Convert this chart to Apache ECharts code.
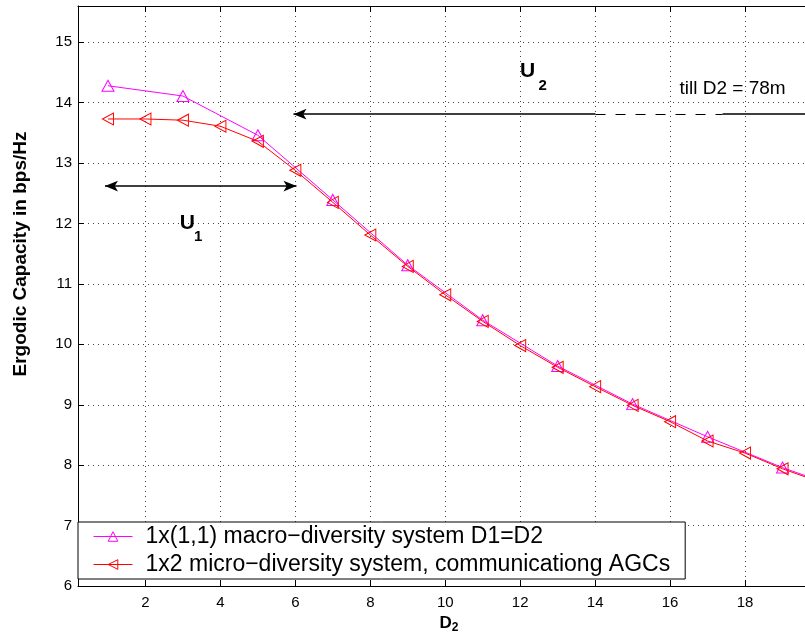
<!DOCTYPE html>
<html><head><meta charset="utf-8">
<script src="https://cdn.jsdelivr.net/npm/echarts@6/dist/echarts.min.js"></script>
<style>html,body{margin:0;padding:0;background:#fff}#c{width:805px;height:634px}</style>
</head><body><div id="c"></div>
<script>
// ---- data ----
const macroName = '1x(1,1) macro\u2212diversity system D1=D2';
const microName = '1x2 micro\u2212diversity system, communicationg AGCs';
const macroX = [1, 3, 5, 7, 9, 11, 13, 15, 17, 19, 21];
const macroY = [14.28, 14.11, 13.46, 12.39, 11.31, 10.40, 9.64, 9.01, 8.47, 7.96, 7.52];
const microX = [1, 2, 3, 4, 5, 6, 7, 8, 9, 10, 11, 12, 13, 14, 15, 16, 17, 18, 19, 20];
const microY = [13.73, 13.73, 13.71, 13.61, 13.36, 12.88, 12.35, 11.81, 11.29, 10.82, 10.38, 9.98, 9.62, 9.30, 8.99, 8.72, 8.40, 8.20, 7.94, 7.72];
const xTicks = [2, 4, 6, 8, 10, 12, 14, 16, 18];
const yTicks = [6, 7, 8, 9, 10, 11, 12, 13, 14, 15];
const xRange = [0.2, 20];
const yRange = [6, 15.6];
// annotation arrows (data coords)
const u1Arrow = [[0.92, 12.62], [6.03, 12.62]];
const u2Solid = [[5.95, 13.81], [14.01, 13.81]];
const u2Dashed = [[14.01, 13.81], [17.4, 13.81]];
const u2Tail = [[17.4, 13.81], [20, 13.81]];
// annotation texts (data coords)
const u1Main = [3.12, 12.01], u1Sub = [3.41, 11.78];
const u2Main = [12.2, 14.52], u2Sub = [12.6, 14.28];
const tillPos = [16.25, 14.23];

const FF = '"Liberation Sans", Arial, Helvetica, sans-serif';
const zip = (xs, ys) => xs.map((x, i) => [x, ys[i]]);

const chart = echarts.init(document.getElementById('c'));
const gridLine = { show: true, lineStyle: { color: '#444', type: [1, 4], width: 1 } };
const option = {
  animation: false,
  backgroundColor: '#fff',
  grid: { left: 78, top: 6, bottom: 48, right: -15, show: false, outerBoundsMode: 'none', containLabel: false },
  xAxis: [{
    type: 'value', min: xRange[0], max: xRange[1], position: 'bottom',
    axisLine: { show: true, lineStyle: { color: '#000', width: 1 } },
    axisTick: { show: true, inside: true, length: 6, lineStyle: { color: '#000' }, customValues: xTicks },
    axisLabel: { show: true, color: '#000', fontSize: 15, fontFamily: FF, margin: 9, customValues: xTicks },
    splitLine: gridLine,
    name: '{a|D}{b|2}', nameLocation: 'middle', nameGap: 22,
    nameTextStyle: {
      rich: {
        a: { fontSize: 17, fontWeight: 'bold', fontFamily: FF, color: '#000', padding: [0, 0, 9, 0] },
        b: { fontSize: 12, fontWeight: 'bold', fontFamily: FF, color: '#000' }
      }
    }
  }, {
    type: 'value', min: xRange[0], max: xRange[1], position: 'top',
    axisLine: { show: true, lineStyle: { color: '#000', width: 1 } },
    axisTick: { show: true, inside: true, length: 6, lineStyle: { color: '#000' }, customValues: xTicks },
    axisLabel: { show: false },
    splitLine: { show: false }
  }],
  yAxis: [{
    type: 'value', min: yRange[0], max: yRange[1],
    axisLine: { show: true, lineStyle: { color: '#000', width: 1 } },
    axisTick: { show: true, inside: true, length: 6, lineStyle: { color: '#000' }, customValues: yTicks },
    axisLabel: { show: true, color: '#000', fontSize: 15, fontFamily: FF, margin: 6, customValues: yTicks },
    splitLine: gridLine,
    name: 'Ergodic Capacity in bps/Hz', nameLocation: 'middle', nameGap: 48,
    nameTextStyle: { fontSize: 19, fontWeight: 'bold', fontFamily: FF, color: '#000', padding: [0, 0, 0, 84] }
  }],
  legend: {
    left: 78, top: 522, orient: 'vertical',
    data: [macroName, microName],
    backgroundColor: '#fff', borderColor: '#000', borderWidth: 1,
    padding: [3, 15, 3, 15], itemGap: 5, itemWidth: 39, itemHeight: 12,
    itemStyle: { color: 'rgba(0,0,0,0)', borderWidth: 1 },
    lineStyle: { width: 1 },
    textStyle: { fontSize: 23, fontFamily: FF, color: '#000', padding: [0, 0, 0, 8] }
  },
  series: [{
    name: macroName, type: 'line', data: zip(macroX, macroY),
    symbol: 'triangle', symbolSize: [12, 11],
    itemStyle: { color: 'rgba(0,0,0,0)', borderColor: '#ff00ff', borderWidth: 1 },
    lineStyle: { color: '#ff00ff', width: 1 }, z: 3
  }, {
    name: microName, type: 'line', data: zip(microX, microY),
    symbol: 'triangle', symbolSize: [12, 11], symbolRotate: 90,
    itemStyle: { color: 'rgba(0,0,0,0)', borderColor: '#ff0000', borderWidth: 1 },
    lineStyle: { color: '#ff0000', width: 1 }, z: 4,
    markLine: {
      silent: true, animation: false, label: { show: false },
      lineStyle: { color: '#000', width: 1.5, type: 'solid' },
      data: [
        [{ coord: u1Arrow[0], symbol: 'arrow', symbolSize: [8, 13] }, { coord: u1Arrow[1], symbol: 'arrow', symbolSize: [8, 13] }],
        [{ coord: u2Solid[0], symbol: 'arrow', symbolSize: [8, 13] }, { coord: u2Solid[1], symbol: 'none' }],
        [{ coord: u2Dashed[0], symbol: 'none', lineStyle: { type: [10, 10], width: 1.2 } }, { coord: u2Dashed[1], symbol: 'none' }],
        [{ coord: u2Tail[0], symbol: 'none' }, { coord: u2Tail[1], symbol: 'none' }]
      ]
    }
  }]
};
chart.setOption(option);

function px(p) { return chart.convertToPixel({ gridIndex: 0 }, p); }
function txt(p, text, size, weight, align) {
  const q = px(p);
  return {
    type: 'text', x: q[0], y: q[1], z: 100,
    style: { text: text, fontSize: size, fontWeight: weight, fontFamily: FF, fill: '#000', align: align || 'center', verticalAlign: 'middle' }
  };
}
chart.setOption({
  graphic: [
    txt(u1Main, 'U', 21, 'bold'),
    txt(u1Sub, '1', 15, 'bold'),
    txt(u2Main, 'U', 21, 'bold'),
    txt(u2Sub, '2', 15, 'bold'),
    txt(tillPos, 'till D2 = 78m', 19, 'normal', 'left')
  ]
});
</script></body></html>
